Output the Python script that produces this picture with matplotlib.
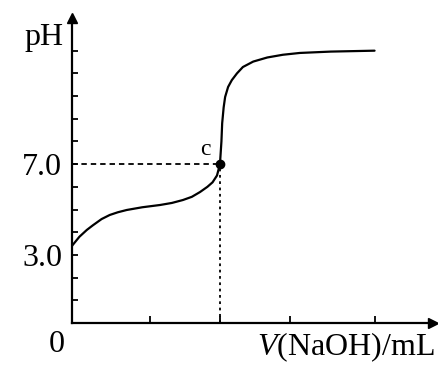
import matplotlib.pyplot as plt

plt.rcParams['font.family'] = ['Liberation Serif', 'DejaVu Serif']
plt.rcParams['mathtext.fontset'] = 'custom'
plt.rcParams['mathtext.it'] = 'Liberation Serif:italic'
plt.rcParams['mathtext.rm'] = 'Liberation Serif'

# titration curve read along V(NaOH) (one tick = one unit)
v_naoh = [0.0, 0.1, 0.2, 0.28, 0.4, 0.51, 0.62, 0.74, 0.95, 1.19, 1.35, 1.5, 1.62,
          1.73, 1.83, 1.9, 1.96, 2.0, 2.02, 2.03, 2.05, 2.07, 2.11, 2.16, 2.23,
          2.31, 2.45, 2.64, 2.85, 3.08, 3.5, 4.09]
ph = [3.4, 3.8, 4.1, 4.3, 4.58, 4.76, 4.88, 4.98, 5.1, 5.2, 5.29, 5.42, 5.56,
      5.77, 6.0, 6.2, 6.5, 7.0, 8.0, 8.8, 9.5, 9.96, 10.4, 10.7, 11.0,
      11.28, 11.52, 11.7, 11.82, 11.9, 11.96, 12.0]

point_c = (2.0, 7.0)
x_ticks = [1.05, 2.0, 2.95, 4.1]
y_ticks = list(range(1, 13))
y_labels = {3: '3.0', 7: '7.0'}

fig = plt.figure(figsize=(4.39, 3.65), dpi=100)
ax = fig.add_axes([72 / 439, 42 / 365, 361 / 439, 305 / 365])
ax.set_xlim(0, 4.88)
ax.set_ylim(0, 13.44)

for s in ['top', 'right']:
    ax.spines[s].set_visible(False)
for s in ['left', 'bottom']:
    ax.spines[s].set_linewidth(1.6)

# arrow heads on the axes
ax.plot(1, 0, '>', color='black', ms=7, transform=ax.get_yaxis_transform(), clip_on=False)
ax.plot(0, 1, '^', color='black', ms=7, transform=ax.get_xaxis_transform(), clip_on=False)

ax.plot(v_naoh, ph, color='black', lw=1.6, solid_capstyle='round')

# dashed guides to the point c
ax.plot([0, point_c[0]], [point_c[1], point_c[1]], color='black', lw=1.3,
        linestyle=(0, (3, 2.2)))
ax.plot([point_c[0], point_c[0]], [0, point_c[1]], color='black', lw=1.3,
        linestyle=(0, (1.5, 2)))
ax.plot(*point_c, 'o', color='black', ms=6)
ax.text(point_c[0] - 0.2, point_c[1] + 0.2, 'c', fontsize=17, ha='center', va='bottom')

ax.set_xticks(x_ticks)
ax.set_xticklabels([])
ax.set_yticks(y_ticks)
ax.set_yticklabels([y_labels.get(t, '') for t in y_ticks])
ax.tick_params(axis='x', direction='in', length=5, width=1.3)
ax.tick_params(axis='y', direction='in', length=4, width=1.3, labelsize=23, pad=7)

ax.text(-0.1, -0.3, '0', fontsize=23, ha='right', va='top')
ax.text(-0.12, 12.6, 'pH', fontsize=23, ha='right', va='center')
ax.text(4.9, -1.42, r'$\mathit{V}$(NaOH)/mL', fontsize=23, ha='right', va='baseline')

fig.savefig('out.png', dpi=100)
